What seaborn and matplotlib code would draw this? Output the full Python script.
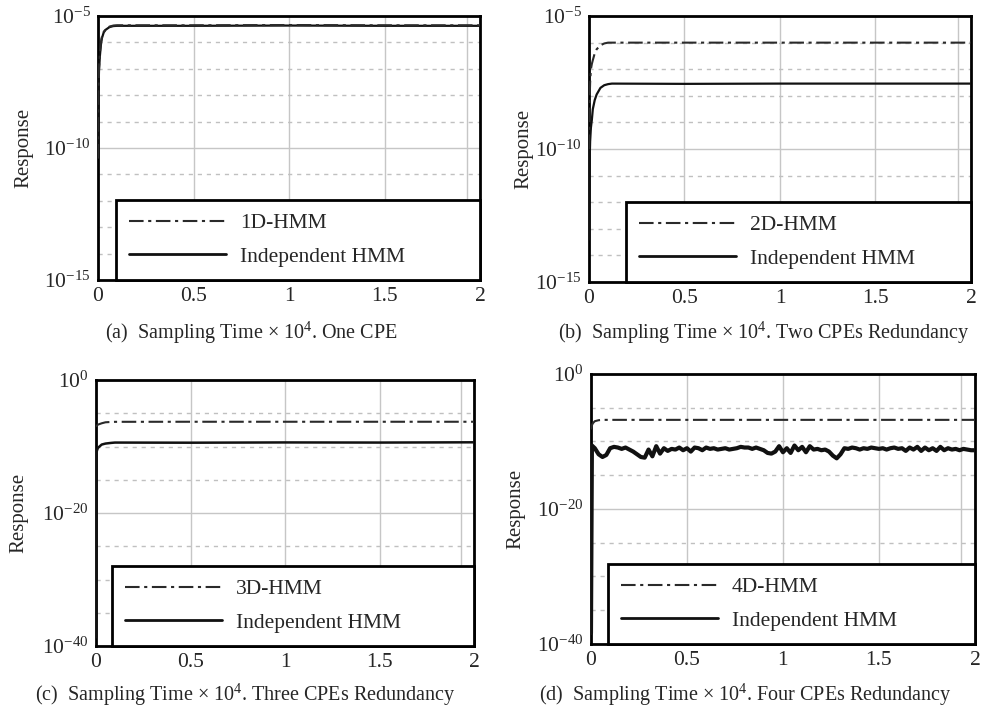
import numpy as np
import pandas as pd
import matplotlib
matplotlib.use("Agg")
import matplotlib.pyplot as plt
import seaborn as sns
from matplotlib.ticker import FixedLocator, NullFormatter, LogFormatterSciNotation

sns.set_style("white")
plt.rcParams["font.family"] = ["Liberation Serif", "DejaVu Serif"]
plt.rcParams["mathtext.fontset"] = "custom"
plt.rcParams["mathtext.rm"] = "Liberation Serif"
plt.rcParams["mathtext.it"] = "Liberation Serif:italic"
plt.rcParams["mathtext.default"] = "regular"

# ---------------- data (exponents of 10) ----------------
# (a) One CPE
xa = [0.0, 0.002, 0.005, 0.01, 0.015, 0.02, 0.03, 0.04, 0.06, 0.08, 0.1, 0.5, 1.0, 1.5, 2.0]
a_hmm = [-10.4, -8.0, -7.0, -6.4, -6.0, -5.8, -5.6, -5.5, -5.4, -5.36, -5.35, -5.35, -5.34, -5.35, -5.35]
a_ind = [-10.3, -8.2, -7.1, -6.5, -6.1, -5.85, -5.62, -5.52, -5.42, -5.38, -5.37, -5.37, -5.36, -5.37, -5.37]

# (b) Two CPEs
xb = [0.0, 0.003, 0.006, 0.01, 0.015, 0.02, 0.03, 0.04, 0.06, 0.08, 0.1, 0.12, 0.5, 1.0, 1.5, 2.0]
b_hmm = [-10.0, -8.2, -7.5, -7.0, -6.8, -6.66, -6.4, -6.25, -6.1, -6.03, -6.0, -6.0, -6.0, -6.0, -6.0, -6.0]
b_ind = [-13.4, -10.5, -9.7, -9.2, -8.9, -8.5, -8.16, -7.95, -7.7, -7.6, -7.56, -7.54, -7.55, -7.54, -7.54, -7.54]

# (c) Three CPEs
xc = [0.0, 0.003, 0.006, 0.01, 0.02, 0.03, 0.05, 0.08, 0.1, 0.5, 1.0, 1.5, 2.0]
c_hmm = [-7.0, -6.9, -6.8, -6.7, -6.6, -6.5, -6.35, -6.3, -6.28, -6.27, -6.27, -6.27, -6.27]
c_ind = [-38.7, -10.8, -10.5, -10.2, -9.95, -9.7, -9.55, -9.45, -9.4, -9.42, -9.38, -9.4, -9.36]

# (d) Four CPEs
xd_hmm = [0.0, 0.005, 0.01, 0.02, 0.04, 0.06, 0.5, 1.0, 1.5, 2.0]
d_hmm = [-8.2, -7.6, -7.3, -7.0, -6.85, -6.8, -6.8, -6.8, -6.8, -6.8]
xd_ind = [0.0, 0.005, 0.02, 0.04, 0.06, 0.08, 0.10, 0.12, 0.14, 0.16, 0.18, 0.20,
          0.22, 0.24, 0.26, 0.28, 0.30, 0.32, 0.34, 0.36, 0.38, 0.40,
          0.42, 0.44, 0.46, 0.48, 0.50, 0.52, 0.54, 0.56, 0.58, 0.60,
          0.62, 0.64, 0.66, 0.68, 0.70, 0.72, 0.74, 0.76, 0.78, 0.80,
          0.82, 0.84, 0.86, 0.88, 0.90, 0.92, 0.94, 0.96, 0.98, 1.00,
          1.02, 1.04, 1.06, 1.08, 1.10, 1.12, 1.14, 1.16, 1.18, 1.20,
          1.22, 1.24, 1.26, 1.28, 1.30, 1.32, 1.34, 1.36, 1.38, 1.40,
          1.42, 1.44, 1.46, 1.48, 1.50, 1.52, 1.54, 1.56, 1.58, 1.60,
          1.62, 1.64, 1.66, 1.68, 1.70, 1.72, 1.74, 1.76, 1.78, 1.80,
          1.82, 1.84, 1.86, 1.88, 1.90, 1.92, 1.94, 1.96, 1.98, 2.00]
d_ind = [-38.4, -10.6, -11.0, -11.9, -12.3, -12.0, -11.0, -10.8, -10.9, -11.1, -10.9, -11.2,
         -11.5, -11.9, -12.3, -12.4, -11.2, -12.2, -10.7, -11.8, -11.0, -11.4,
         -11.1, -11.2, -10.9, -11.3, -11.0, -11.5, -10.9, -11.0, -11.3, -10.9,
         -11.1, -11.0, -11.2, -11.1, -11.0, -11.2, -11.1, -11.0, -10.8, -10.9,
         -10.9, -11.1, -10.9, -11.1, -11.3, -11.7, -11.8, -11.5, -10.7, -11.6,
         -11.0, -11.7, -10.6, -11.3, -10.8, -11.6, -10.7, -11.2, -11.1, -11.3,
         -11.2, -11.5, -12.1, -12.5, -11.9, -11.0, -11.1, -10.9, -11.0, -11.2,
         -11.0, -11.1, -10.9, -11.0, -11.1, -11.0, -11.2, -11.0, -10.9, -11.1,
         -11.0, -11.4, -10.9, -11.2, -10.8, -11.4, -10.9, -11.3, -11.0, -11.4,
         -10.8, -11.3, -11.0, -11.2, -11.1, -11.3, -11.1, -11.2, -11.3, -11.3]

x_ticks = [0, 0.5, 1, 1.5, 2]
x_ticklabels = ["0", "0.5", "1", "1.5", "2"]

captions = [
    "(a)  Sampling Time \u00d7 10$^{4}$. One CPE",
    "(b)  Sampling Time \u00d7 10$^{4}$. Two CPEs Redundancy",
    "(c)  Sampling Time \u00d7 10$^{4}$. Three CPEs Redundancy",
    "(d)  Sampling Time \u00d7 10$^{4}$. Four CPEs Redundancy",
]
hmm_labels = ["1D-HMM", "2D-HMM", "3D-HMM", "4D-HMM"]
ind_label = "Independent HMM"

# ---------------- figure ----------------
fig = plt.figure(figsize=(9.81, 7.10), dpi=100)
rects = [
    [0.0999, 0.6056, 0.3894, 0.3718],
    [0.6004, 0.6028, 0.3894, 0.3746],
    [0.0979, 0.0901, 0.3853, 0.3746],
    [0.6024, 0.0930, 0.3914, 0.3803],
]
panels = [
    (xa, a_hmm, xa, a_ind, (1e-15, 1e-5), [1e-15, 1e-10, 1e-5], [10.0**k for k in range(-14, -5) if k != -10]),
    (xb, b_hmm, xb, b_ind, (1e-15, 1e-5), [1e-15, 1e-10, 1e-5], [10.0**k for k in range(-14, -5) if k != -10]),
    (xc, c_hmm, xc, c_ind, (1e-40, 1e0), [1e-40, 1e-20, 1e0], [10.0**k for k in (-35, -30, -25, -15, -10, -5)]),
    (xd_hmm, d_hmm, xd_ind, d_ind, (1e-40, 1e0), [1e-40, 1e-20, 1e0], [10.0**k for k in (-35, -30, -25, -15, -10, -5)]),
]
leg_x0 = [0.047, 0.096, 0.042, 0.044]
ylabel_x = [-0.170, -0.145, -0.180, -0.170]
cap_pos = [(251, 333), (764, 333), (245, 695), (745, 695)]
ind_lw = [1.6, 1.6, 1.8, 3.0]

dashdot = (0, (7, 2.2, 1.5, 2.2))

for i, (rect, p) in enumerate(zip(rects, panels)):
    hx, hy, ix, iy, ylim, ymaj, ymin = p
    ax = fig.add_axes(rect)
    ax.set_yscale("log")
    df_h = pd.DataFrame({"t": hx, "r": [10.0 ** v for v in hy]})
    df_i = pd.DataFrame({"t": ix, "r": [10.0 ** v for v in iy]})
    sns.lineplot(data=df_i, x="t", y="r", ax=ax, color="#111111", lw=ind_lw[i],
                 estimator=None, sort=False, zorder=3)
    sns.lineplot(data=df_h, x="t", y="r", ax=ax, color="#2a2a2a", lw=1.5,
                 linestyle=dashdot, estimator=None, sort=False, zorder=4)
    ax.set_xlim(0, 2)
    ax.set_ylim(*ylim)
    ax.set_xticks(x_ticks)
    ax.set_xticklabels(x_ticklabels)
    ax.xaxis.set_minor_locator(FixedLocator([1.93]))
    ax.yaxis.set_major_locator(FixedLocator(ymaj))
    ax.yaxis.set_major_formatter(LogFormatterSciNotation())
    ax.yaxis.set_minor_locator(FixedLocator(ymin))
    ax.yaxis.set_minor_formatter(NullFormatter())
    ax.grid(False)
    ax.xaxis.grid(True, which="major", color="#c6c6c6", lw=1.0, ls="-")
    ax.xaxis.grid(True, which="minor", color="#c6c6c6", lw=1.0, ls="-")
    ax.yaxis.grid(True, which="major", color="#c6c6c6", lw=1.0, ls="-")
    ax.yaxis.grid(True, which="minor", color="#c0c0c0", lw=1.0, ls=(0, (3, 3.5)))
    ax.set_axisbelow(True)
    ax.tick_params(axis="both", which="major", direction="in", length=4, width=1,
                   labelsize=15.5, color="#555555", pad=5)
    ax.tick_params(axis="both", which="minor", length=0)
    for s in ax.spines.values():
        s.set_visible(True)
        s.set_color("black")
        s.set_linewidth(2.0)
    ax.set_xlabel("")
    ax.set_ylabel("Response", fontsize=15)
    ax.yaxis.set_label_coords(ylabel_x[i], 0.5)

    h_ind = ax.lines[0]
    h_hmm = ax.lines[1]
    x0 = leg_x0[i]
    leg = ax.legend([h_hmm, h_ind], [hmm_labels[i], ind_label],
                    loc="lower left", bbox_to_anchor=(x0, 0.0, 1.0 - x0, 0.3),
                    mode="expand", borderaxespad=0.0, fontsize=15.5,
                    handlelength=4.5, handletextpad=0.65, labelspacing=0.62,
                    borderpad=0.62, fancybox=False, framealpha=1.0,
                    edgecolor="black")
    leg.get_frame().set_linewidth(2.0)
    leg.legend_handles[1].set_linewidth(2.0)
    leg.set_zorder(10)

    fig.text(cap_pos[i][0] / 981, 1 - cap_pos[i][1] / 710, captions[i],
             ha="center", va="center", fontsize=14.5)

fig.savefig("out.png", dpi=100)
